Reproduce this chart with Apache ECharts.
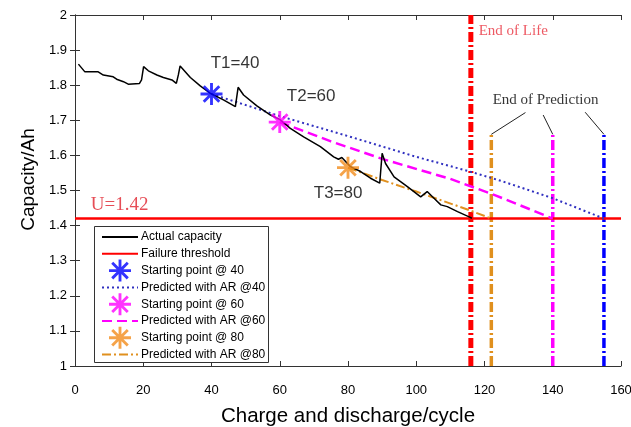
<!DOCTYPE html>
<html><head><meta charset="utf-8">
<script src="https://cdn.jsdelivr.net/npm/echarts@6/dist/echarts.min.js"></script>
<style>html,body{margin:0;padding:0;background:#fff}#c{width:631px;height:427px}</style>
</head><body><div id="c"></div>
<script>
// ---- data ----
const actualCycles = [1,2.9,6.8,8.3,11.2,12.2,14.2,15.6,18.9,19.5,20.1,21.5,24,25.9,28.4,29.7,30.3,30.8,33.8,36.7,39.6,43.5,47,47.8,49.4,53.3,57.3,60.2,63.1,67,71.9,75.8,77.2,78.2,80.7,83.7,86.6,89.3,90,91,93.5,97.4,101.3,103.2,105.2,107.2,109.1,112.1,115.5,116.3];
const actualCapacity = [1.860,1.838,1.838,1.829,1.824,1.817,1.810,1.803,1.805,1.815,1.853,1.841,1.829,1.822,1.815,1.805,1.830,1.855,1.822,1.798,1.777,1.758,1.739,1.794,1.772,1.741,1.715,1.701,1.677,1.653,1.625,1.596,1.589,1.594,1.568,1.554,1.535,1.521,1.606,1.577,1.539,1.511,1.482,1.497,1.478,1.459,1.454,1.440,1.425,1.421];
const threshold = 1.42;
const startCycles = [40, 60, 80];
const startCaps = [1.775, 1.695, 1.565];
const pred40Cycles = [40,60,80,100,115,125,140,155];
const pred40Caps   = [1.775,1.712,1.655,1.596,1.556,1.527,1.478,1.42];
const pred60Cycles = [60,75,90,110,123,140];
const pred60Caps   = [1.695,1.64,1.59,1.533,1.487,1.42];
const pred80Cycles = [80,90,100,115,122];
const pred80Caps   = [1.565,1.53,1.497,1.446,1.42];
const endOfLife = 116;
const endPredCycles = [122, 140, 155];
const endPredTop = 1.66;
const xTickLabels = [0,20,40,60,80,100,120,140,160];
const yTickLabels = [1,1.1,1.2,1.3,1.4,1.5,1.6,1.7,1.8,1.9,2];
const legendNames = ['Actual capacity','Failure threshold','Starting point @ 40','Predicted with AR @40','Starting point @ 60','Predicted with AR @60','Starting point @ 80','Predicted with AR @80'];
const tLabels = ['T1=40','T2=60','T3=80'];
const tLabelPos = [[46.9,1.863],[69.2,1.767],[77.1,1.492]];
const leaderFrom = [[132,1.722],[137.2,1.715],[149.5,1.723]];

// ---- style ----
const BLUE='#0000ff', MAG='#ff00ff', ORG='#f28c1c', ORGL='#e0901e', RED='#ff0000';
const star = 'path://M8.7,0L11.3,0L11.3,20L8.7,20Z M0,8.7L20,8.7L20,11.3L0,11.3Z M3.85,2.01L17.99,16.15L16.15,17.99L2.01,3.85Z M16.15,2.01L17.99,3.85L3.85,17.99L2.01,16.15Z';
const zip = (a,b)=>a.map((v,i)=>[v,b[i]]);
const SANS = 'Liberation Sans, Arial, sans-serif';
const SERIF = 'Liberation Serif, Times New Roman, serif';
const axisFont = {fontFamily:SANS, fontSize:13, color:'#000'};
const lineBase = {type:'line', symbol:'none', silent:true, animation:false};

const series = [
  Object.assign({}, lineBase, {name:'Actual capacity', data:zip(actualCycles,actualCapacity), lineStyle:{color:'#000',width:1.5}, itemStyle:{color:'#000'}, z:5}),
  Object.assign({}, lineBase, {name:'Failure threshold', data:[[0,threshold],[160,threshold]], lineStyle:{color:RED,width:2.5}, itemStyle:{color:RED}, z:3}),
  {name:'Starting point @ 40', type:'scatter', symbol:star, symbolSize:22, data:[[startCycles[0],startCaps[0]]], itemStyle:{color:BLUE}, z:8, animation:false},
  Object.assign({}, lineBase, {name:'Predicted with AR @40', data:zip(pred40Cycles,pred40Caps), lineStyle:{color:'#3030c0',width:2,type:[2,3]}, itemStyle:{color:'#3030c0'}, z:4}),
  {name:'Starting point @ 60', type:'scatter', symbol:star, symbolSize:22, data:[[startCycles[1],startCaps[1]]], itemStyle:{color:MAG}, z:8, animation:false},
  Object.assign({}, lineBase, {name:'Predicted with AR @60', data:zip(pred60Cycles,pred60Caps), lineStyle:{color:MAG,width:2.5,type:[10,5]}, itemStyle:{color:MAG}, z:4}),
  {name:'Starting point @ 80', type:'scatter', symbol:star, symbolSize:22, data:[[startCycles[2],startCaps[2]]], itemStyle:{color:ORG}, z:8, animation:false},
  Object.assign({}, lineBase, {name:'Predicted with AR @80', data:zip(pred80Cycles,pred80Caps), lineStyle:{color:ORGL,width:2,type:[9,3,2,3]}, itemStyle:{color:ORGL}, z:4}),
  Object.assign({}, lineBase, {name:'eol', data:[[endOfLife,1],[endOfLife,2]], lineStyle:{color:RED,width:5,type:[10,3,2,3]}, z:2}),
];
const epColors = [ORGL, MAG, BLUE];
endPredCycles.forEach((c,i)=>{
  series.push(Object.assign({}, lineBase, {name:'ep'+i, data:[[c,1],[c,endPredTop]], lineStyle:{color:epColors[i],width:3.5,type:[10,3,2,3]}, z:2}));
  series.push(Object.assign({}, lineBase, {name:'lead'+i, data:[leaderFrom[i],[c,endPredTop]], lineStyle:{color:'#222',width:1}, z:2}));
});
// text annotations
const notes = [];
tLabels.forEach((t,i)=>notes.push({value:tLabelPos[i], label:{formatter:t, fontFamily:SANS, fontSize:17, color:'#000'}}));
notes.push({value:[118.3,1.954], label:{formatter:'End of Life', align:'left', fontFamily:SERIF, fontSize:15, color:'#e8303c'}});
notes.push({value:[137.9,1.758], label:{formatter:'End of Prediction', fontFamily:SERIF, fontSize:15, color:'#000'}});
notes.push({value:[4.6,1.459], label:{formatter:'U=1.42', align:'left', fontFamily:SERIF, fontSize:19, color:'#e0202c'}});
series.push({name:'notes', type:'scatter', symbolSize:0, silent:true, animation:false, data:notes, label:{show:true, position:'inside'}, z:9});

// legend items: hide the default circle marker on line-type entries
const hiddenMarker = {color:'rgba(0,0,0,0)', borderColor:'rgba(0,0,0,0)', borderWidth:0};
const legendData = legendNames.map(n => n.startsWith('Starting') ? {name:n} : {name:n, itemStyle:hiddenMarker});

const chart = echarts.init(document.getElementById('c'), null, {renderer:'canvas'});
chart.setOption({
  animation:false,
  backgroundColor:'#fff',
  grid:{left:75, right:10, top:15, bottom:61, containLabel:false, outerBoundsMode:'none'},
  xAxis:[
    {type:'value', min:xTickLabels[0], max:xTickLabels[xTickLabels.length-1], interval:20,
     name:'Charge and discharge/cycle', nameLocation:'middle', nameGap:40,
     nameTextStyle:{fontFamily:SANS, fontSize:20.5, color:'#000'},
     axisLine:{lineStyle:{color:'#333',width:1}}, axisTick:{inside:true,length:5,lineStyle:{color:'#333'}},
     axisLabel:Object.assign({margin:18}, axisFont), splitLine:{show:false}},
    {type:'value', position:'top', min:0, max:160, interval:20,
     axisLine:{show:true,lineStyle:{color:'#333',width:1}}, axisTick:{inside:true,length:5,lineStyle:{color:'#333'}},
     axisLabel:{show:false}, splitLine:{show:false}}
  ],
  yAxis:[
    {type:'value', min:yTickLabels[0], max:yTickLabels[yTickLabels.length-1], interval:0.1,
     name:'Capacity/Ah', nameLocation:'middle', nameGap:36,
     nameTextStyle:{fontFamily:SANS, fontSize:19, color:'#000', padding:[0,0,0,22]},
     axisLine:{show:true,lineStyle:{color:'#333',width:1}}, axisTick:{show:true,inside:true,length:5,lineStyle:{color:'#333'}},
     axisLabel:Object.assign({margin:8, formatter:v=>String(Math.round(v*10)/10)}, axisFont), splitLine:{show:false}},
    {type:'value', position:'right', min:1, max:2, interval:0.1,
     axisLine:{show:true,lineStyle:{color:'#333',width:1}}, axisTick:{show:true,inside:true,length:5,lineStyle:{color:'#333'}},
     axisLabel:{show:false}, splitLine:{show:false}}
  ],
  graphic:[{type:'rect', left:94, top:226, shape:{width:174, height:136}, style:{fill:'#fff', stroke:'#333', lineWidth:1}, z:15, silent:true}],
  legend:{data:legendData, orient:'vertical', left:101, top:226, itemWidth:36, itemHeight:22, itemGap:-5.2,
    padding:0, backgroundColor:'rgba(0,0,0,0)', borderWidth:0,
    textStyle:{fontFamily:SANS, fontSize:12, lineHeight:22, height:22, color:'#000', padding:[0,0,0,-2]}, selectedMode:false, z:20},
  series: series
});
</script></body></html>
